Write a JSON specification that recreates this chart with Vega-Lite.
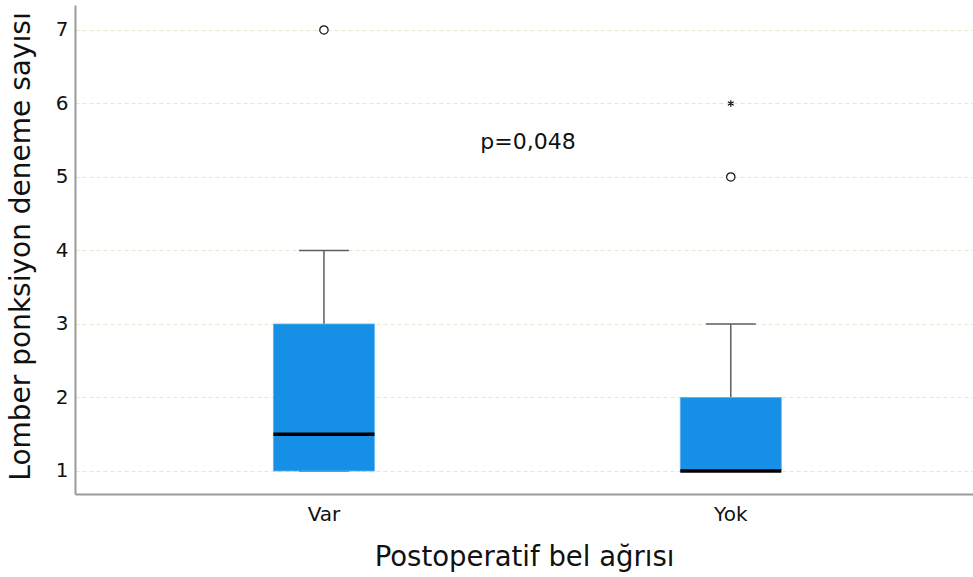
{
  "$schema": "https://vega.github.io/schema/vega-lite/v6.json",
  "width": 898,
  "height": 489,
  "autosize": {"type": "none"},
  "padding": {"left": 75, "top": 5, "right": 0, "bottom": 83},
  "background": "white",
  "config": {
    "view": {"stroke": null},
    "font": "DejaVu Sans",
    "axis": {
      "domainColor": "#9a9a9a",
      "domainWidth": 2,
      "ticks": false,
      "labelColor": "#111",
      "titleColor": "#111",
      "titleFontWeight": "normal",
      "labelFont": "DejaVu Sans",
      "titleFont": "DejaVu Sans"
    }
  },
  "datasets": {
    "stats": [
      {"group": "Var", "lower": 1, "q1": 1, "median": 1.5, "q3": 3, "upper": 4},
      {"group": "Yok", "lower": 1, "q1": 1, "median": 1, "q3": 2, "upper": 3}
    ],
    "outliers": [
      {"group": "Var", "value": 7, "kind": "circle"},
      {"group": "Yok", "value": 5, "kind": "circle"},
      {"group": "Yok", "value": 6, "kind": "extreme"}
    ],
    "notes": [
      {"label": "p=0,048", "y": 5.48}
    ]
  },
  "layer": [
    {
      "data": {"name": "stats"},
      "mark": {"type": "rule", "color": "#5e5e5e", "strokeWidth": 1.5},
      "encoding": {
        "x": {
          "field": "group", "type": "nominal",
          "scale": {"type": "band", "domain": ["Var", "Yok"], "paddingInner": 0, "paddingOuter": 0.1036, "align": 0.54},
          "axis": {
            "title": "Postoperatif bel ağrısı",
            "labelAngle": 0,
            "labelFontSize": 20,
            "labelPadding": 10,
            "titleFontSize": 27.5,
            "titlePadding": 19,
            "grid": false
          }
        },
        "y": {
          "field": "q3", "type": "quantitative",
          "scale": {"domain": [0.687, 7.34], "nice": false, "zero": false},
          "axis": {
            "title": "Lomber ponksiyon deneme sayısı",
            "values": [1, 2, 3, 4, 5, 6, 7],
            "format": "d",
            "labelFontSize": 20,
            "labelPadding": 7,
            "titleFontSize": 28,
            "titlePadding": 20,
            "titleY": 241,
            "grid": true,
            "gridColor": "#e9e5cf",
            "gridDash": [4, 3],
            "gridWidth": 1
          }
        },
        "y2": {"field": "upper"}
      }
    },
    {
      "data": {"name": "stats"},
      "mark": {"type": "tick", "color": "#5e5e5e", "size": 50, "thickness": 1.5, "opacity": 1},
      "encoding": {
        "x": {"field": "group", "type": "nominal"},
        "y": {"field": "upper", "type": "quantitative"}
      }
    },
    {
      "data": {"name": "stats"},
      "mark": {"type": "tick", "color": "#5e5e5e", "size": 50, "thickness": 1.5, "opacity": 1},
      "encoding": {
        "x": {"field": "group", "type": "nominal"},
        "y": {"field": "lower", "type": "quantitative"}
      }
    },
    {
      "data": {"name": "stats"},
      "mark": {"type": "bar", "width": 101, "color": "#1590e6", "stroke": "#5db0f0", "strokeWidth": 0.8, "opacity": 1},
      "encoding": {
        "x": {"field": "group", "type": "nominal"},
        "y": {"field": "q1", "type": "quantitative"},
        "y2": {"field": "q3"}
      }
    },
    {
      "data": {"name": "stats"},
      "mark": {"type": "tick", "color": "#000000", "size": 101, "thickness": 3.5, "opacity": 1},
      "encoding": {
        "x": {"field": "group", "type": "nominal"},
        "y": {"field": "median", "type": "quantitative"}
      }
    },
    {
      "data": {"name": "outliers"},
      "transform": [{"filter": "datum.kind === 'circle'"}],
      "mark": {"type": "point", "shape": "circle", "size": 70, "stroke": "#111", "strokeWidth": 1.2, "fill": "white", "filled": false, "opacity": 1},
      "encoding": {
        "x": {"field": "group", "type": "nominal"},
        "y": {"field": "value", "type": "quantitative"}
      }
    },
    {
      "data": {"name": "outliers"},
      "transform": [{"filter": "datum.kind === 'extreme'"}],
      "mark": {"type": "point", "shape": "M0,-1L0,1M-0.87,-0.5L0.87,0.5M-0.87,0.5L0.87,-0.5", "size": 45, "stroke": "#111", "strokeWidth": 1.2, "filled": false, "opacity": 1},
      "encoding": {
        "x": {"field": "group", "type": "nominal"},
        "y": {"field": "value", "type": "quantitative"}
      }
    },
    {
      "data": {"name": "notes"},
      "mark": {"type": "text", "fontSize": 22, "color": "#111", "baseline": "middle", "align": "center", "dx": 4},
      "encoding": {
        "y": {"field": "y", "type": "quantitative"},
        "text": {"field": "label"}
      }
    }
  ]
}
